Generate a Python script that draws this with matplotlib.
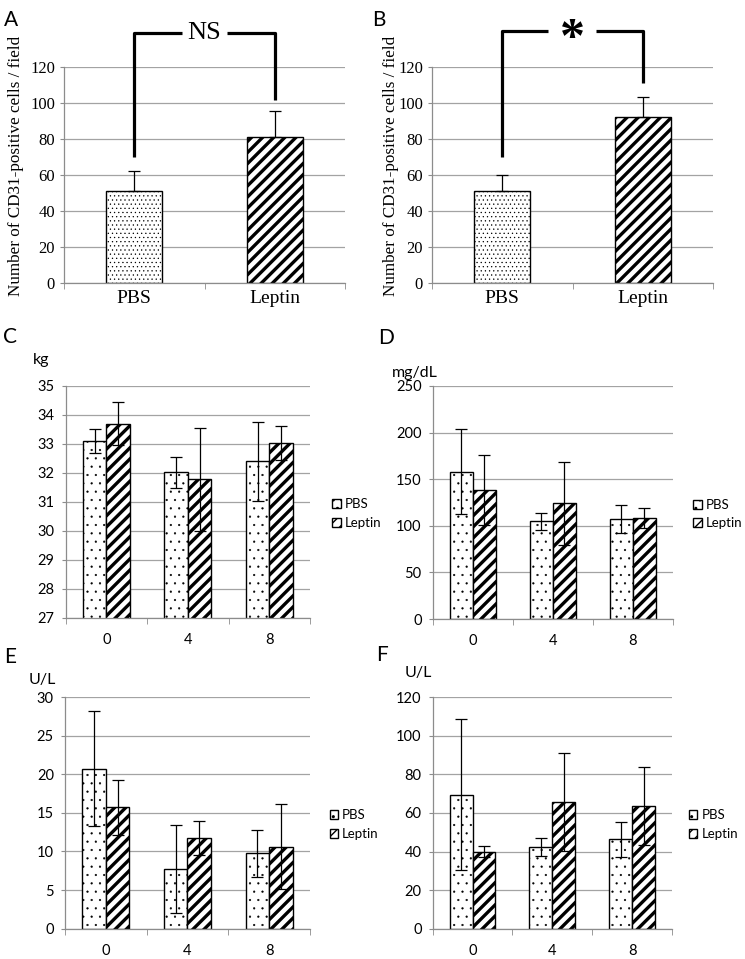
import matplotlib.pyplot as plt
import numpy as np

plt.rcParams["font.family"] = ["Lato", "DejaVu Sans"]

# A / B: CD31-positive cells per field
groups_ab = ["PBS", "Leptin"]
cd31_a_mean = [51, 81]
cd31_a_err = [11, 14.5]
cd31_b_mean = [51, 92]
cd31_b_err = [9, 11.5]

# C-F: time course
weeks = ["0", "4", "8"]
c_pbs = [33.11, 32.02, 32.40]
c_pbs_err = [0.42, 0.54, 1.35]
c_lep = [33.70, 31.78, 33.04]
c_lep_err = [0.74, 1.78, 0.59]

d_pbs = [158.2, 105.0, 106.8]
d_pbs_err = [46, 9, 15]
d_lep = [138.2, 124.0, 108.2]
d_lep_err = [37.5, 44.5, 11]

e_pbs = [20.73, 7.76, 9.74]
e_pbs_err = [7.4, 5.7, 3.0]
e_lep = [15.7, 11.72, 10.6]
e_lep_err = [3.6, 2.2, 5.5]

f_pbs = [69.4, 42.3, 46.4]
f_pbs_err = [39, 4.6, 9]
f_lep = [40.0, 65.6, 63.6]
f_lep_err = [3, 25.5, 20]

GRID = "#a3a3a3"
AXIS = "#8c8c8c"
SERIF = "Liberation Serif"

fig = plt.figure(figsize=(7.45, 9.59), dpi=100)


def hbar(ax, x, h, w, hatch, hlw, **kw):
    with plt.rc_context({"hatch.linewidth": hlw}):
        bars = ax.bar(x, h, w, color="white", edgecolor="black", lw=1.0,
                      hatch=hatch, **kw)
    for b in bars:
        if hasattr(b, "set_hatch_linewidth"):
            b.set_hatch_linewidth(hlw)
    return bars


def base_style(ax, ncat):
    for s in ["top", "right"]:
        ax.spines[s].set_visible(False)
    for s in ["left", "bottom"]:
        ax.spines[s].set_color(AXIS)
        ax.spines[s].set_linewidth(0.9)
    ax.yaxis.grid(True, color=GRID, lw=0.9)
    ax.set_axisbelow(True)
    ax.set_xlim(-0.5, ncat - 0.5)
    ax.set_xticks(range(ncat))
    ax.set_xticks(np.arange(-0.5, ncat, 1.0), minor=True)
    ax.tick_params(axis="x", which="major", length=0)
    ax.tick_params(axis="x", which="minor", length=4, color=AXIS, direction="out")
    ax.tick_params(axis="y", length=3, color=AXIS, direction="out")


def cd31_panel(rect, means, errs, letter, bracket_top, right_low, mark, mark_size,
               mark_dy, gap, label_x, weight="normal"):
    ax = fig.add_axes(rect)
    x = np.arange(len(groups_ab))
    hbar(ax, x[0], means[0], 0.4, "....", 0.4)
    hbar(ax, x[1], means[1], 0.4, "///", 2.4)
    ax.errorbar(x, means, yerr=[np.zeros(len(errs)), errs], fmt="none",
                ecolor="black", elinewidth=0.9, capsize=4, capthick=0.9)
    base_style(ax, 2)
    ax.set_ylim(0, 120)
    ax.set_yticks(range(0, 121, 20))
    ax.set_xticklabels(groups_ab, fontsize=14, family=SERIF)
    ax.tick_params(axis="x", which="major", pad=5)
    for lab in ax.get_yticklabels():
        lab.set_family(SERIF)
        lab.set_fontsize(12)
    ax.set_ylabel("Number of CD31-positive cells / field", family=SERIF, fontsize=12.3)
    ax.yaxis.set_label_coords(label_x, 0.54)
    # significance bracket
    kw = dict(color="black", lw=2.3, clip_on=False, solid_capstyle="butt")
    ax.plot([0, 0, gap[0]], [70, bracket_top, bracket_top], **kw)
    ax.plot([gap[1], 1, 1], [bracket_top, bracket_top, right_low], **kw)
    ax.text(0.5, bracket_top + mark_dy, mark, ha="center", va="center", family=SERIF,
            fontsize=mark_size, fontweight=weight, clip_on=False)
    fig.text(rect[0] - 0.081, 0.99, letter, fontsize=15, va="top", ha="left")
    return ax


cd31_panel([0.0859, 0.7049, 0.3772, 0.2252], cd31_a_mean, cd31_a_err, "A",
           139, 101.7, "NS", 19, 0, (0.34, 0.66), -0.142)
cd31_panel([0.5799, 0.7049, 0.3772, 0.2252], cd31_b_mean, cd31_b_err, "B",
           140, 111, "*", 36, -5, (0.326, 0.667), -0.118, weight="bold")


def time_panel(rect, pbs, pbs_err, lep, lep_err, ylim, ystep, unit, unit_xy,
               letter, letter_xy, leg_x):
    ax = fig.add_axes(rect)
    x = np.arange(len(weeks))
    w = 0.287
    hbar(ax, x - w / 2, pbs, w, "..", 0.35, label="PBS")
    hbar(ax, x + w / 2, lep, w, "///", 2.4, label="Leptin")
    ax.errorbar(x - w / 2, pbs, yerr=pbs_err, fmt="none", ecolor="black",
                elinewidth=0.9, capsize=4, capthick=0.9)
    ax.errorbar(x + w / 2, lep, yerr=lep_err, fmt="none", ecolor="black",
                elinewidth=0.9, capsize=4, capthick=0.9)
    base_style(ax, 3)
    ax.set_ylim(*ylim)
    ax.set_yticks(np.arange(ylim[0], ylim[1] + ystep / 2, ystep))
    ax.set_xticklabels(weeks, fontsize=10.5)
    ax.tick_params(axis="x", which="major", pad=11)
    ax.tick_params(axis="y", labelsize=10.5, pad=5)
    ax.legend(loc="center left", bbox_to_anchor=(leg_x, 0.45), frameon=False,
              fontsize=9.5, handlelength=0.65, handleheight=0.65, handletextpad=0.3,
              labelspacing=0.5, borderaxespad=0, borderpad=0)
    fig.text(unit_xy[0] / 745, 1 - unit_xy[1] / 959, unit, fontsize=11.5,
             ha="left", va="center")
    fig.text(letter_xy[0] / 745, 1 - letter_xy[1] / 959, letter, fontsize=15,
             ha="left", va="center")
    return ax


time_panel([0.0882, 0.3556, 0.3279, 0.2419], c_pbs, c_pbs_err, c_lep, c_lep_err,
           (27, 35), 1, "kg", (33, 360), "C", (3, 337), 1.09)
time_panel([0.5808, 0.3545, 0.3226, 0.2430], d_pbs, d_pbs_err, d_lep, d_lep_err,
           (0, 250), 50, "mg/dL", (392, 373), "D", (378, 338), 1.085)
time_panel([0.0872, 0.0316, 0.3289, 0.2416], e_pbs, e_pbs_err, e_lep, e_lep_err,
           (0, 30), 5, "U/L", (29, 680), "E", (4, 657), 1.08)
time_panel([0.5808, 0.0313, 0.3212, 0.2419], f_pbs, f_pbs_err, f_lep, f_lep_err,
           (0, 120), 20, "U/L", (405, 673), "F", (376, 655), 1.07)

fig.savefig("out.png", dpi=100)
